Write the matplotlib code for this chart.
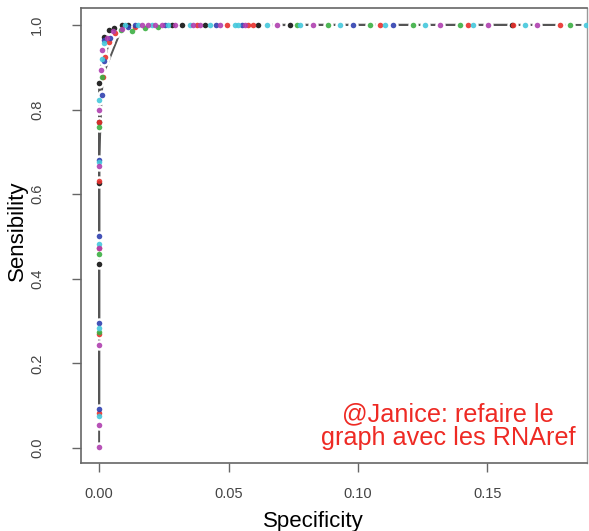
import matplotlib
matplotlib.use("Agg")
import matplotlib.pyplot as plt

# ---- data: (specificity, sensitivity) points per coloured curve ----
black_x = [0, 0, 0, 0, 0.0019, 0.0039, 0.0058, 0.0089, 0.0113, 0.0281, 0.0319, 0.0409, 0.0615, 0.0737, 0.1595]
black_y = [0.435, 0.626, 0.771, 0.863, 0.972, 0.988, 0.993, 1.0, 1.0, 1.0, 1.0, 1.0, 1.0, 1.0, 1.0]

red_x = [0, 0, 0, 0, 0, 0.0015, 0.0023, 0.0039, 0.0060, 0.0139, 0.0377, 0.0496, 0.0577, 0.0593, 0.1085, 0.1426, 0.1600, 0.1780]
red_y = [0.083, 0.270, 0.472, 0.632, 0.771, 0.877, 0.924, 0.960, 0.980, 0.995, 1.0, 1.0, 1.0, 1.0, 1.0, 1.0, 1.0, 1.0]

green_x = [0, 0, 0, 0.0012, 0.0085, 0.0126, 0.0178, 0.0229, 0.0763, 0.0885, 0.1046, 0.1214, 0.1394, 0.1819]
green_y = [0.275, 0.458, 0.759, 0.877, 0.988, 0.986, 0.993, 0.995, 1.0, 1.0, 1.0, 1.0, 1.0, 1.0]

blue_x = [0, 0, 0, 0, 0.0010, 0.0019, 0.0019, 0.0043, 0.0110, 0.0139, 0.0255, 0.0452, 0.0551, 0.0982, 0.1136]
blue_y = [0.091, 0.295, 0.501, 0.681, 0.834, 0.915, 0.965, 0.970, 0.995, 1.0, 1.0, 1.0, 1.0, 1.0, 1.0]

cyan_x = [0, 0, 0, 0, 0, 0.0012, 0.0019, 0.0100, 0.0152, 0.0203, 0.0268, 0.0351, 0.0429, 0.0525, 0.0538,
          0.0647, 0.0776, 0.0931, 0.1104, 0.1259, 0.1445, 0.1645, 0.1883]
cyan_y = [0.076, 0.283, 0.482, 0.677, 0.823, 0.920, 0.957, 1.0, 1.0, 1.0, 1.0, 1.0, 1.0, 1.0, 1.0,
          1.0, 1.0, 1.0, 1.0, 1.0, 1.0, 1.0, 1.0]

magenta_x = [0, 0, 0, 0, 0, 0, 0.0008, 0.0012, 0.0031, 0.0054, 0.0089, 0.0165, 0.0190, 0.0216, 0.0242,
             0.0293, 0.0364, 0.0390, 0.0467, 0.0564, 0.0686, 0.0827, 0.1317, 0.1503, 0.1690]
magenta_y = [0.002, 0.054, 0.243, 0.472, 0.667, 0.800, 0.894, 0.940, 0.969, 0.985, 0.990, 1.0, 1.0, 1.0, 1.0,
             1.0, 1.0, 1.0, 1.0, 1.0, 1.0, 1.0, 1.0, 1.0, 1.0]

x_ticks = [0.00, 0.05, 0.10, 0.15]
x_ticklabels = ["0.00", "0.05", "0.10", "0.15"]
y_ticks = [0.0, 0.2, 0.4, 0.6, 0.8, 1.0]
y_ticklabels = ["0.0", "0.2", "0.4", "0.6", "0.8", "1.0"]

curves = [
    (black_x, black_y, "#111111"),
    (red_x, red_y, "#e8302c"),
    (green_x, green_y, "#3cb043"),
    (blue_x, blue_y, "#3040b0"),
    (cyan_x, cyan_y, "#45c8dc"),
    (magenta_x, magenta_y, "#b040b0"),
]

plt.rcParams["font.family"] = ["Liberation Sans", "DejaVu Sans"]

fig = plt.figure(figsize=(5.89, 5.31), dpi=100)
ax = fig.add_axes([81 / 589, 1 - 463 / 531, (587 - 81) / 589, (463 - 8) / 531])

for xs, ys, c in curves:
    pts = sorted(zip(xs, ys))
    ax.plot([p[0] for p in pts], [p[1] for p in pts], color="#555555", lw=1.4,
            solid_capstyle="butt", zorder=1)
for xs, ys, c in curves:
    ax.plot(xs, ys, ls="none", marker="o", ms=7.5, mfc="white", mec="none", zorder=2)
for xs, ys, c in curves:
    ax.plot(xs, ys, ls="none", marker="o", ms=4.0, mfc=c, mec="none", alpha=0.9, zorder=3)

ax.set_xlim(-0.0070, 0.1885)
ax.set_ylim(-0.0355, 1.040)
ax.set_xticks(x_ticks)
ax.set_xticklabels(x_ticklabels)
ax.set_yticks(y_ticks)
ax.set_yticklabels(y_ticklabels, rotation=90, va="center")

for s in ["left", "bottom", "top"]:
    ax.spines[s].set_color("#666666")
    ax.spines[s].set_linewidth(1.2)
ax.spines["right"].set_color("#999999")
ax.spines["right"].set_linewidth(1.0)

ax.tick_params(axis="both", direction="out", length=6.5, width=1.0, color="#666666",
               labelcolor="#444444", labelsize=10.5)
ax.tick_params(axis="x", pad=11)
ax.tick_params(axis="y", pad=20)

ax.set_xlabel("Specificity", fontsize=16, color="black")
ax.set_ylabel("Sensibility", fontsize=16, color="black")
ax.xaxis.set_label_coords(0.4585, -0.105)
ax.yaxis.set_label_coords(-0.104, 0.51)

ax.text(0.725, 0.081, "@Janice: refaire le\ngraph avec les RNAref", transform=ax.transAxes,
        ha="center", va="center", color="#ee2a24", fontsize=18.2, linespacing=1.0, zorder=5)

fig.savefig("out.png", dpi=100)
